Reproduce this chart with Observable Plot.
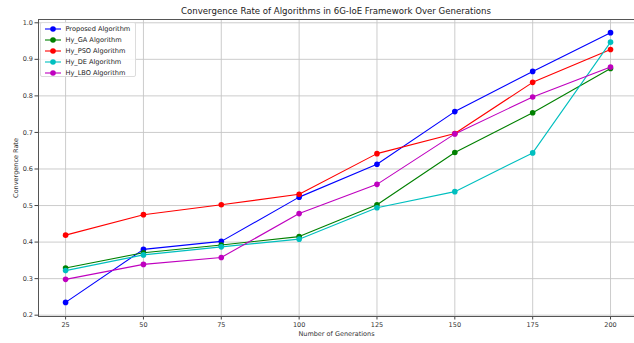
<!DOCTYPE html>
<html>
<head>
<meta charset="utf-8">
<script src="https://cdn.jsdelivr.net/npm/d3@7"></script>
<script src="https://cdn.jsdelivr.net/npm/@observablehq/plot@0.6"></script>
<style>
  html, body { margin: 0; padding: 0; background: #fff; }
  #wrap { position: relative; width: 634px; height: 343px; overflow: hidden; font-family: "DejaVu Sans", sans-serif; }
  #title { height: 16px; line-height: 22px; font-size: 8.6px; color: #222; text-align: center; padding-left: 38px; white-space: nowrap; }
  #legend { position: absolute; left: 40px; top: 22px; width: 96px; height: 55px; background: rgba(255,255,255,0.85);
            border: 1px solid #dcdcdc; border-radius: 2px; box-sizing: border-box; padding-top: 0.5px;
            font-size: 6.6px; color: #222; white-space: nowrap; }
  #legend .row { height: 11px; display: flex; align-items: center; }
  #legend svg { margin-left: 3.5px; margin-right: 5px; flex: none; }
</style>
</head>
<body>
<div id="wrap">
  <div id="title">Convergence Rate of Algorithms in 6G-IoE Framework Over Generations</div>
  <div id="chart"></div>
  <div id="legend"></div>
</div>
<script>
// Generations on the x axis
const generations = [25, 50, 75, 100, 125, 150, 175, 200];

// Convergence rate of each algorithm per generation
const proposed = [0.235, 0.380, 0.402, 0.523, 0.613, 0.757, 0.867, 0.973];
const hyGA     = [0.329, 0.371, 0.392, 0.415, 0.502, 0.645, 0.754, 0.875];
const hyPSO    = [0.419, 0.475, 0.502, 0.531, 0.642, 0.697, 0.837, 0.927];
const hyDE     = [0.322, 0.365, 0.387, 0.408, 0.494, 0.538, 0.644, 0.947];
const hyLBO    = [0.298, 0.339, 0.358, 0.478, 0.558, 0.696, 0.797, 0.879];

const seriesNames  = ["Proposed Algorithm", "Hy_GA Algorithm", "Hy_PSO Algorithm", "Hy_DE Algorithm", "Hy_LBO Algorithm"];
const seriesValues = [proposed, hyGA, hyPSO, hyDE, hyLBO];
const seriesColors = ["#0000ff", "#008000", "#ff0000", "#00bfbf", "#bf00bf"];

const xTicks = [25, 50, 75, 100, 125, 150, 175, 200];
const yTicks = [0.2, 0.3, 0.4, 0.5, 0.6, 0.7, 0.8, 0.9, 1.0];

// Long-format rows for the line and dot marks
const rows = seriesNames.flatMap((name, i) =>
  generations.map((g, j) => ({series: name, generation: g, rate: seriesValues[i][j]}))
);

const chart = Plot.plot({
  width: 634,
  height: 327,
  marginTop: 3,
  marginBottom: 27,
  marginLeft: 38,
  marginRight: 0,
  style: {fontFamily: "DejaVu Sans, sans-serif", fontSize: "6.5px", color: "#333", background: "#fff"},
  x: {domain: [16.3, 207.7]},
  y: {domain: [0.1964, 1.009]},
  color: {domain: seriesNames, range: seriesColors},
  marks: [
    Plot.gridX(xTicks, {stroke: "#c6c6c6", strokeOpacity: 1, strokeWidth: 0.9}),
    Plot.gridY(yTicks, {stroke: "#c6c6c6", strokeOpacity: 1, strokeWidth: 0.9}),
    Plot.axisX({ticks: xTicks, tickSize: 3.5, tickPadding: 2.5, fontSize: 6.5, stroke: "#444",
                label: "Number of Generations", labelAnchor: "center", labelArrow: "none", labelOffset: 19}),
    Plot.axisY({ticks: yTicks, tickFormat: ".1f", tickSize: 3.5, tickPadding: 2, fontSize: 6.5, stroke: "#444",
                label: "Convergence Rate", labelAnchor: "center", labelArrow: "none", labelOffset: 25}),
    Plot.frame({stroke: "#555", strokeWidth: 1}),
    Plot.line(rows, {x: "generation", y: "rate", z: "series", stroke: "series", strokeWidth: 1.1}),
    Plot.dot(rows, {x: "generation", y: "rate", fill: "series", r: 2.8})
  ]
});
document.getElementById("chart").appendChild(chart);

// Legend entries: line swatch with a marker, then the series name
const legend = d3.select("#legend");
seriesNames.forEach((name, i) => {
  const row = legend.append("div").attr("class", "row");
  const sw = row.append("svg").attr("width", 16).attr("height", 8);
  sw.append("line").attr("x1", 0).attr("x2", 16).attr("y1", 4).attr("y2", 4)
    .attr("stroke", seriesColors[i]).attr("stroke-width", 1.1);
  sw.append("circle").attr("cx", 8).attr("cy", 4).attr("r", 2.8).attr("fill", seriesColors[i]);
  row.append("span").text(name);
});
</script>
</body>
</html>
